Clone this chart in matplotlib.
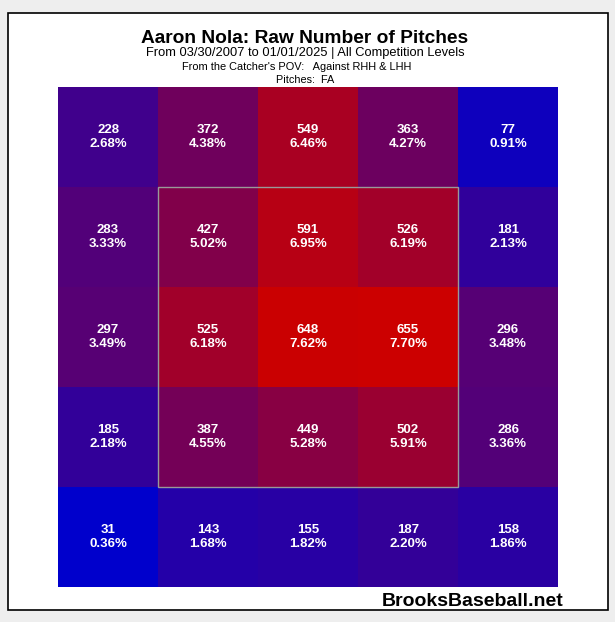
import matplotlib
matplotlib.use('Agg')
from matplotlib import pyplot as plt
from matplotlib.colors import LinearSegmentedColormap
from matplotlib.patches import Rectangle
import numpy as np

plt.rcParams['font.family'] = ['Liberation Sans', 'DejaVu Sans']

# pitch counts per zone, top row first (catcher's view)
counts = [[228, 372, 549, 363, 77],
          [283, 427, 591, 526, 181],
          [297, 525, 648, 655, 296],
          [185, 387, 449, 502, 286],
          [31, 143, 155, 187, 158]]
# share of all pitches, in percent
pcts = [[2.68, 4.38, 6.46, 4.27, 0.91],
        [3.33, 5.02, 6.95, 6.19, 2.13],
        [3.49, 6.18, 7.62, 7.70, 3.48],
        [2.18, 4.55, 5.28, 5.91, 3.36],
        [0.36, 1.68, 1.82, 2.20, 1.86]]

title = 'Aaron Nola: Raw Number of Pitches'
subtitle = 'From 03/30/2007 to 01/01/2025 | All Competition Levels'
line3 = "From the Catcher's POV:   Against RHH & LHH"
line4 = 'Pitches:  FA'

W, H = 615, 622
fig = plt.figure(figsize=(W / 100, H / 100), dpi=100, facecolor='#eeeeee')

# white panel with black frame, behind the grid
fig.patches.append(Rectangle((8 / W, 1 - 610 / H), 600 / W, 597 / H,
                             transform=fig.transFigure, facecolor='white',
                             edgecolor='black', linewidth=1.2, zorder=-1))

ax = fig.add_axes([58 / W, 1 - 587 / H, 500 / W, 500 / H])
ax.set_zorder(1)
cmap = LinearSegmentedColormap.from_list('br', [(0, 0, 0.8), (0.8, 0, 0)])
data = np.array(counts)
ax.imshow(data, cmap=cmap, vmin=data.min(), vmax=data.max(),
          extent=(0, 5, 5, 0), aspect='auto', interpolation='nearest')
for i in range(5):
    for j in range(5):
        ax.text(j + 0.5, i + 0.5, f'{counts[i][j]}\n{pcts[i][j]:.2f}%',
                ha='center', va='center', color='white', fontsize=9.5,
                fontweight='bold', linespacing=1.2)
# strike zone
ax.add_patch(Rectangle((1, 1), 3, 3, fill=False, edgecolor='#999999',
                       linewidth=1))
ax.set_xlim(0, 5)
ax.set_ylim(5, 0)
ax.axis('off')

fig.text(305 / W, 1 - 38.5 / H, title, ha='center', va='center',
         fontsize=13.8, fontweight='bold')
fig.text(305 / W, 1 - 53 / H, subtitle, ha='center', va='center', fontsize=9.3)
fig.text(297 / W, 1 - 67 / H, line3, ha='center', va='center', fontsize=7.9)
fig.text(305 / W, 1 - 80 / H, line4, ha='center', va='center', fontsize=7.8)
fig.text(473 / W, 1 - 601 / H, 'BrooksBaseball.net', ha='center',
         va='center', fontsize=14, fontweight='bold')

fig.savefig('out.png', dpi=100, facecolor=fig.get_facecolor())
